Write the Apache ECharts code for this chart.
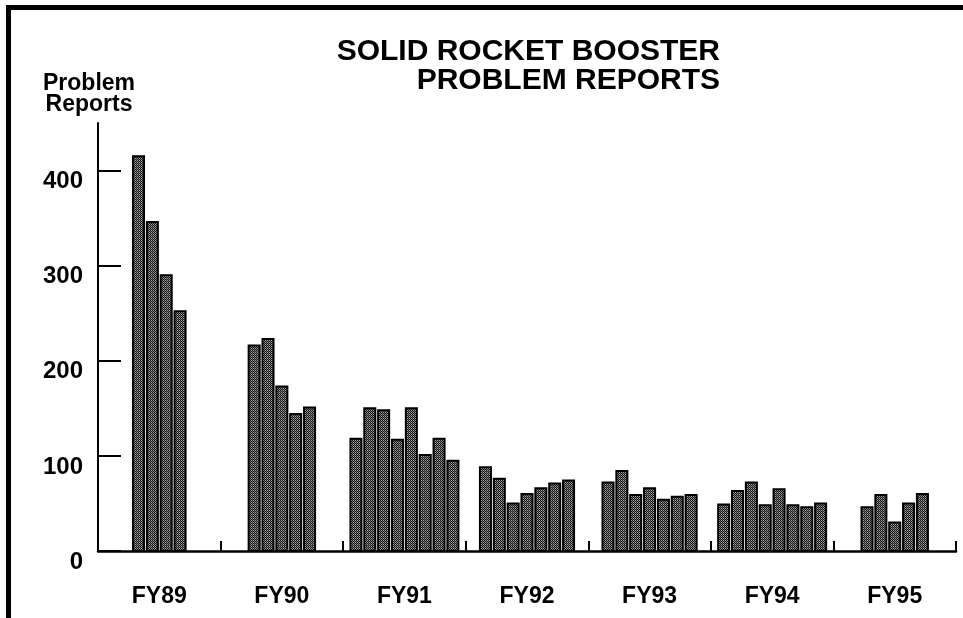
<!DOCTYPE html>
<html>
<head>
<meta charset="utf-8">
<script src="https://cdn.jsdelivr.net/npm/echarts@6/dist/echarts.min.js"></script>
<style>
html,body{margin:0;padding:0;background:#fff;}
#chart{width:963px;height:618px;}
</style>
</head>
<body>
<div id="chart"></div>
<script>
// ---- data ----
var categories = ['FY89', 'FY90', 'FY91', 'FY92', 'FY93', 'FY94', 'FY95'];
var fy89 = [415, 346, 290, 252];
var fy90 = [216, 223, 173, 144, 151];
var fy91 = [118, 150, 148, 117, 150, 101, 118, 95];
var fy92 = [88, 76, 50, 60, 66, 71, 74];
var fy93 = [72, 84, 59, 66, 54, 57, 59];
var fy94 = [49, 63, 72, 48, 65, 48, 46, 50];
var fy95 = [46, 59, 30, 50, 60];
var yTickValues = [0, 100, 200, 300, 400];
var titleText = 'SOLID ROCKET BOOSTER\nPROBLEM REPORTS';
var yAxisTitle = 'Problem\nReports';

// ---- build table: [groupIndex, value, barIndex, barCount] ----
var groups = [fy89, fy90, fy91, fy92, fy93, fy94, fy95];
var barData = [];
groups.forEach(function (vals, g) {
  vals.forEach(function (v, i) {
    barData.push([g, v, i, vals.length]);
  });
});

// stipple fill pattern
var pc = document.createElement('canvas');
pc.width = 2; pc.height = 2;
var pctx = pc.getContext('2d');
pctx.fillStyle = '#141414'; pctx.fillRect(0, 0, 2, 2);
pctx.fillStyle = '#a8a8a8'; pctx.fillRect(1, 0, 1, 1);
pctx.fillStyle = '#6e6e6e'; pctx.fillRect(0, 1, 1, 1);
var stipple = { image: pc, repeat: 'repeat' };

var FONT = '"Liberation Sans", Arial, Helvetica, sans-serif';

var chart = echarts.init(document.getElementById('chart'), null, { renderer: 'canvas' });
chart.setOption({
  backgroundColor: '#ffffff',
  animation: false,
  grid: { left: 98, right: 7, top: 123, bottom: 67, containLabel: false },
  xAxis: {
    type: 'category',
    data: categories,
    boundaryGap: true,
    axisLine: { show: true, lineStyle: { color: '#000', width: 2.5 } },
    axisTick: { show: true, inside: true, length: 10, lineStyle: { color: '#000', width: 2 } },
    axisLabel: { color: '#000', fontFamily: FONT, fontWeight: 'bold', fontSize: 23, margin: 34 },
    splitLine: { show: false }
  },
  yAxis: {
    type: 'value',
    min: 0,
    max: 450,
    interval: 50,
    axisLine: { show: true, lineStyle: { color: '#000', width: 2 } },
    axisTick: { show: true, inside: true, length: 23, lineStyle: { color: '#000', width: 2 }, customValues: yTickValues },
    axisLabel: { color: '#000', fontFamily: FONT, fontWeight: 'bold', fontSize: 24, margin: 15,
                 verticalAlign: 'top', lineHeight: 22, customValues: yTickValues },
    splitLine: { show: false }
  },
  graphic: [
    { type: 'rect', shape: { x: 6, y: 5, width: 957, height: 5 }, style: { fill: '#000' }, silent: true },
    { type: 'rect', shape: { x: 6, y: 5, width: 5, height: 613 }, style: { fill: '#000' }, silent: true },
    { type: 'text', x: 720, y: 37, style: { text: titleText, align: 'right', verticalAlign: 'top',
        font: 'bold 30px ' + FONT, lineHeight: 29, fill: '#000' } },
    { type: 'text', x: 89, y: 73, style: { text: yAxisTitle, align: 'center', verticalAlign: 'top',
        font: 'bold 23px ' + FONT, lineHeight: 21, fill: '#000' } }
  ],
  series: [{
    type: 'custom',
    data: barData,
    encode: { x: 0, y: 1 },
    renderItem: function (params, api) {
      var g = api.value(0), v = api.value(1), i = api.value(2), n = api.value(3);
      var base = api.coord([g, 0]);
      var top = api.coord([g, v]);
      var band = api.size([1, 0])[0];
      var pitch = band * 0.113;
      var w = band * 0.09;
      var x = base[0] + (i - (n - 1) / 2) * pitch - w / 2;
      return {
        type: 'rect',
        shape: { x: x, y: top[1], width: w, height: base[1] - top[1] },
        style: { fill: stipple, stroke: '#000', lineWidth: 2 }
      };
    }
  }]
});
</script>
</body>
</html>
